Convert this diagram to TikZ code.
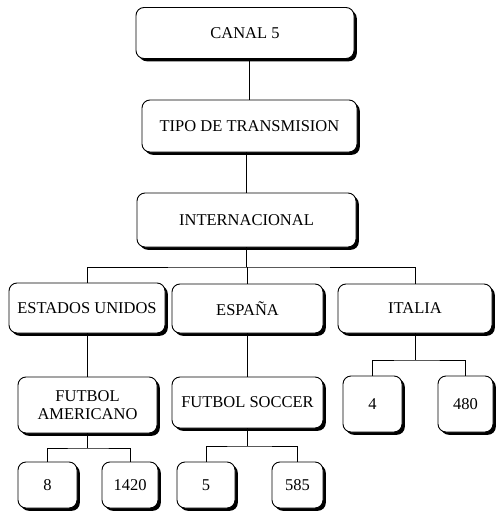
\documentclass[tikz,border=0pt]{standalone}
\usepackage{fontspec}
\setmainfont{Liberation Serif}
\usetikzlibrary{shadows}
\begin{document}
\begin{tikzpicture}[x=1pt,y=-1pt,
  box/.style={draw=black, line width=0.9pt, fill=white, rounded corners=8pt,
    inner sep=0pt, align=center, font=\fontsize{16.5}{18}\selectfont,
    drop shadow={shadow xshift=2.8pt, shadow yshift=-2.8pt, opacity=1, fill=black}},
  conn/.style={draw=black, line width=0.9pt}]
\useasboundingbox (0,0) rectangle (498,514);
\node[box, minimum width=218pt, minimum height=51pt] (canal) at (245,33) {CANAL 5};
\node[box, minimum width=215pt, minimum height=52pt] (tipo) at (249.5,126) {TIPO DE TRANSMISION};
\node[box, minimum width=219pt, minimum height=54pt] (inter) at (246.5,220) {INTERNACIONAL};
\node[box, minimum width=156pt, minimum height=50pt] (eu) at (87,308) {ESTADOS UNIDOS};
\node[box, minimum width=151pt, minimum height=49pt] (esp) at (247.5,308.5) {ESPAÑA};
\node[box, minimum width=154pt, minimum height=49pt] (ita) at (415,308.5) {ITALIA};
\node[box, minimum width=139pt, minimum height=56pt] (fa) at (87.5,405) {FUTBOL\\AMERICANO};
\node[box, minimum width=151pt, minimum height=51pt] (fs) at (247.5,402.5) {FUTBOL SOCCER};
\node[box, minimum width=59pt, minimum height=56pt] (n4) at (372.5,404) {4};
\node[box, minimum width=55pt, minimum height=56pt] (n480) at (465.5,404) {480};
\node[box, minimum width=59pt, minimum height=46pt] (n8) at (47.5,485) {8};
\node[box, minimum width=56pt, minimum height=46pt] (n1420) at (130,485) {1420};
\node[box, minimum width=58pt, minimum height=46pt] (n5) at (206,485) {5};
\node[box, minimum width=51pt, minimum height=46pt] (n585) at (297.5,485) {585};
\coordinate (b1) at (inter.south |- 0,267);
\coordinate (b2) at (ita.south |- 0,360);
\coordinate (b3) at (fa.south |- 0,448);
\coordinate (b4) at (fs.south |- 0,446);
\draw[conn] (tipo.north) -- (tipo.north |- canal.south);
\draw[conn] (inter.north) -- (inter.north |- tipo.south);
\draw[conn] (inter.south) -- (b1);
\draw[conn] (eu.north) |- (b1) -| (ita.north);
\draw[conn] (esp.north) -- (esp.north |- b1);
\draw[conn] (fa.north) -- (fa.north |- eu.south);
\draw[conn] (fs.north) -- (fs.north |- esp.south);
\draw[conn] (ita.south) -- (b2);
\draw[conn] (n4.north) |- (b2) -| (n480.north);
\draw[conn] (fa.south) -- (b3);
\draw[conn] (n8.north) |- (b3) -| (n1420.north);
\draw[conn] (fs.south) -- (b4);
\draw[conn] (n5.north) |- (b4) -| (n585.north);
\end{tikzpicture}
\end{document}
